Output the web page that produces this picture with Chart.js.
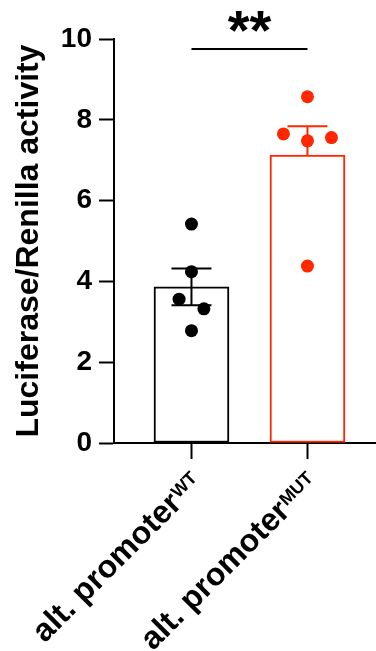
<!DOCTYPE html>
<html>
<head>
<meta charset="utf-8">
<script src="https://cdn.jsdelivr.net/npm/chart.js@4.4.1/dist/chart.umd.min.js"></script>
<style>
  html, body { margin: 0; padding: 0; background: #ffffff; }
  #wrap { width: 376px; height: 651px; position: relative; }
</style>
</head>
<body>
<div id="wrap"><canvas id="c" width="376" height="651"></canvas></div>
<script>
// Groups on the x axis: base label plus superscript tag
const groupNames = ['alt. promoter', 'alt. promoter'];
const groupTags = ['WT', 'MUT'];

// Individual replicate measurements (Luciferase/Renilla ratio)
const wtValues = [5.42, 4.24, 3.56, 3.32, 2.78];
const mutValues = [8.57, 7.65, 7.48, 7.56, 4.38];

// Horizontal spread of the replicate dots around each bar centre
const wtSpread = [0, 0, -0.107, 0.107, 0];
const mutSpread = [0, -0.207, 0, 0.207, 0];

// Y axis ticks
const yTicks = [0, 2, 4, 6, 8, 10];

// Significance bracket
const sigLevel = 9.75;
const sigText = '**';

const RED = 'rgb(255,38,0)';
const BLACK = '#000000';
const FONT = '"Liberation Sans", Arial, Helvetica, sans-serif';

function mean(a) { return a.reduce((s, v) => s + v, 0) / a.length; }
function sem(a) {
  const m = mean(a);
  const sd = Math.sqrt(a.reduce((s, v) => s + (v - m) * (v - m), 0) / (a.length - 1));
  return sd / Math.sqrt(a.length);
}

const groupValues = [wtValues, mutValues];
const groupSpread = [wtSpread, mutSpread];
const groupColors = [BLACK, RED];
const barMeans = groupValues.map(mean);
const barSems = groupValues.map(sem);
// WT whisker shown both ways, MUT only upward
const errorSides = ['both', 'up'];

const barData = barMeans.map((m, i) => ({ x: i + 1, y: m }));
const dotSets = groupValues.map((vals, g) =>
  vals.map((v, k) => ({ x: g + 1 + groupSpread[g][k], y: v })));

// Whiskers (SEM) drawn right after the bars, below the dots
const errorBarPlugin = {
  id: 'errorBars',
  afterDatasetDraw(chart, args) {
    if (args.index !== 0) return;
    const { ctx, scales: { x, y } } = chart;
    ctx.save();
    ctx.lineWidth = 2;
    ctx.lineCap = 'butt';
    barMeans.forEach((m, i) => {
      const cx = x.getPixelForValue(i + 1);
      const yTop = y.getPixelForValue(m + barSems[i]);
      const yMid = y.getPixelForValue(m);
      const yBot = y.getPixelForValue(m - barSems[i]);
      const half = 20;
      ctx.strokeStyle = groupColors[i];
      ctx.beginPath();
      ctx.moveTo(cx, errorSides[i] === 'both' ? yBot : yMid);
      ctx.lineTo(cx, yTop);
      ctx.moveTo(cx - half, yTop);
      ctx.lineTo(cx + half, yTop);
      if (errorSides[i] === 'both') {
        ctx.moveTo(cx - half, yBot);
        ctx.lineTo(cx + half, yBot);
      }
      ctx.stroke();
    });
    ctx.restore();
  }
};

// Category labels with superscript tags, rotated 45 degrees and
// right-aligned (tag included) under each tick
const groupLabelPlugin = {
  id: 'groupLabels',
  afterDraw(chart) {
    const { ctx, scales: { x } } = chart;
    ctx.save();
    ctx.fillStyle = BLACK;
    groupNames.forEach((name, i) => {
      const px = x.getPixelForValue(i + 1);
      ctx.save();
      ctx.translate(px + 6.5, x.top + 36);
      ctx.rotate(-Math.PI / 4);
      ctx.textBaseline = 'alphabetic';
      ctx.textAlign = 'right';
      ctx.font = 'bold 18px ' + FONT;
      const tagW = ctx.measureText(groupTags[i]).width;
      ctx.fillText(groupTags[i], 0, 0);
      ctx.font = 'bold 32px ' + FONT;
      ctx.fillText(name, -tagW - 1, 8);
      ctx.restore();
    });
    ctx.restore();
  }
};

// Asterisks above the comparison bracket
const sigPlugin = {
  id: 'sigStars',
  afterDraw(chart) {
    const { ctx, scales: { x, y } } = chart;
    const cx = (x.getPixelForValue(1) + x.getPixelForValue(2)) / 2;
    const ly = y.getPixelForValue(sigLevel);
    ctx.save();
    ctx.fillStyle = BLACK;
    ctx.font = 'bold 56px ' + FONT;
    ctx.textAlign = 'center';
    ctx.textBaseline = 'alphabetic';
    const mt = ctx.measureText(sigText);
    ctx.fillText(sigText, cx, ly - 17 - mt.actualBoundingBoxDescent);
    ctx.restore();
  }
};

new Chart(document.getElementById('c'), {
  type: 'bar',
  data: {
    datasets: [
      {
        type: 'bar',
        data: barData,
        backgroundColor: '#ffffff',
        borderColor: groupColors,
        borderWidth: 2,
        borderSkipped: false,
        barThickness: 75,
        order: 3
      },
      {
        type: 'scatter',
        data: dotSets[0],
        pointRadius: 6.5,
        pointHoverRadius: 6.5,
        pointBackgroundColor: groupColors[0],
        pointBorderWidth: 0,
        order: 1
      },
      {
        type: 'scatter',
        data: dotSets[1],
        pointRadius: 6.5,
        pointHoverRadius: 6.5,
        pointBackgroundColor: groupColors[1],
        pointBorderWidth: 0,
        order: 1
      },
      {
        type: 'line',
        data: [{ x: 1, y: sigLevel }, { x: 2, y: sigLevel }],
        borderColor: BLACK,
        borderWidth: 2,
        pointRadius: 0,
        fill: false,
        order: 2
      }
    ]
  },
  options: {
    responsive: false,
    animation: false,
    events: [],
    layout: { autoPadding: false, padding: { top: 39, right: 0, left: 0, bottom: 0 } },
    plugins: { legend: { display: false }, tooltip: { enabled: false } },
    scales: {
      x: {
        type: 'linear',
        min: 0.332,
        max: 2.591,
        offset: false,
        afterBuildTicks(scale) { scale.ticks = [{ value: 1 }, { value: 2 }]; },
        afterFit(scale) {
          scale.height = 208;
          scale.paddingLeft = 0; scale.paddingRight = 0;
        },
        ticks: { display: false },
        grid: {
          offset: false,
          drawOnChartArea: false,
          drawTicks: true,
          tickLength: 16,
          tickWidth: 2,
          tickColor: BLACK
        },
        border: { display: true, color: BLACK, width: 2 }
      },
      y: {
        min: 0,
        max: 10,
        afterBuildTicks(scale) { scale.ticks = yTicks.map(v => ({ value: v })); },
        afterFit(scale) {
          scale.width = 114;
          scale.paddingTop = 0; scale.paddingBottom = 0;
        },
        ticks: {
          color: BLACK,
          padding: 7,
          font: { family: FONT, size: 28, weight: 'bold' }
        },
        grid: {
          drawOnChartArea: false,
          drawTicks: true,
          tickLength: 15,
          tickWidth: 2,
          tickColor: BLACK
        },
        border: { display: true, color: BLACK, width: 2 },
        title: {
          display: true,
          text: 'Luciferase/Renilla activity',
          color: BLACK,
          padding: { top: 9.7, bottom: 0 },
          font: { family: FONT, size: 32, weight: 'bold' }
        }
      }
    }
  },
  plugins: [errorBarPlugin, groupLabelPlugin, sigPlugin]
});
</script>
</body>
</html>
